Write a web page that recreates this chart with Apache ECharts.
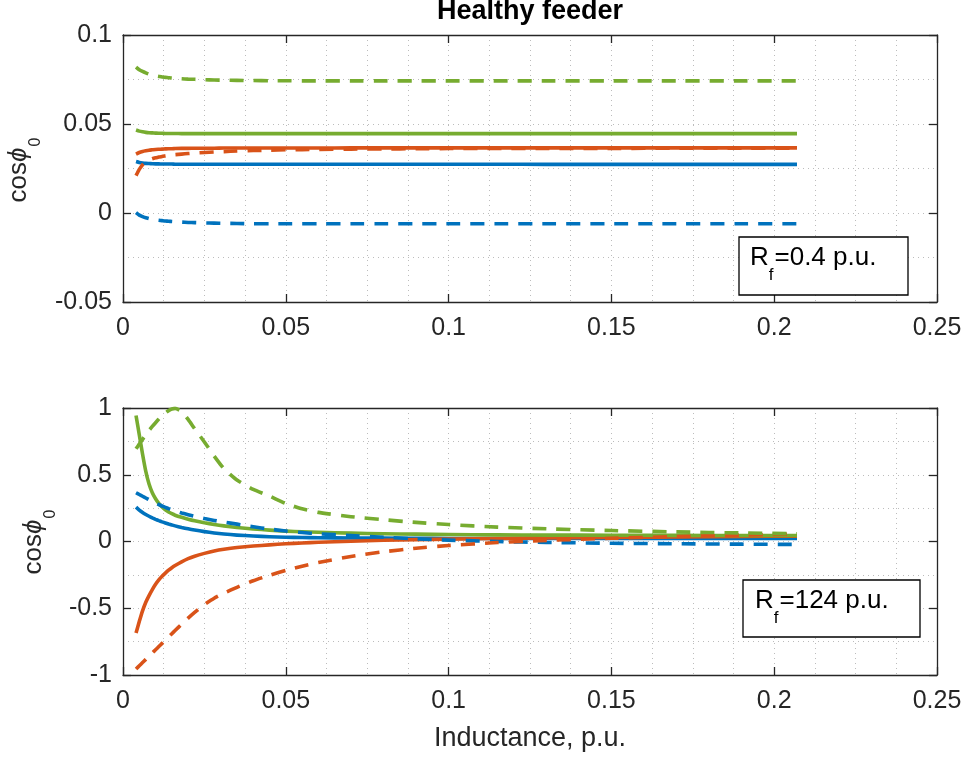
<!DOCTYPE html>
<html>
<head>
<meta charset="utf-8">
<script src="https://cdn.jsdelivr.net/npm/echarts@6/dist/echarts.min.js"></script>
<style>
html,body{margin:0;padding:0;background:#fff;}
#chart{width:968px;height:760px;}
</style>
</head>
<body>
<div id="chart"></div>
<script>
// ---- Data ----
const inductance = [0.004, 0.005, 0.006, 0.007, 0.008, 0.009, 0.010, 0.011, 0.012, 0.013, 0.014, 0.015, 0.016,
  0.018, 0.020, 0.022, 0.025, 0.028, 0.031, 0.035, 0.040, 0.045, 0.050, 0.055, 0.060,
  0.070, 0.080, 0.090, 0.100, 0.115, 0.130, 0.150, 0.170, 0.190, 0.207];

// Top panel (Rf = 0.4 p.u.)
const topBlueSolid   = [0.0289, 0.0284, 0.0281, 0.0279, 0.0278, 0.0277, 0.0276, 0.0276, 0.0275, 0.0275, 0.0275, 0.0275, 0.0274,
  0.0274, 0.0274, 0.0274, 0.0274, 0.0274, 0.0274, 0.0274, 0.0274, 0.0274, 0.0274, 0.0274, 0.0274,
  0.0274, 0.0274, 0.0274, 0.0274, 0.0274, 0.0273, 0.0273, 0.0273, 0.0273, 0.0273];
const topOrangeSolid = [0.0331, 0.0340, 0.0346, 0.0350, 0.0353, 0.0355, 0.0357, 0.0358, 0.0359, 0.0360, 0.0361, 0.0361, 0.0362,
  0.0363, 0.0363, 0.0364, 0.0364, 0.0364, 0.0365, 0.0365, 0.0365, 0.0365, 0.0365, 0.0365, 0.0365,
  0.0366, 0.0366, 0.0366, 0.0366, 0.0366, 0.0366, 0.0366, 0.0366, 0.0366, 0.0366];
const topGreenSolid  = [0.0466, 0.0460, 0.0456, 0.0453, 0.0451, 0.0450, 0.0449, 0.0448, 0.0448, 0.0447, 0.0447, 0.0447, 0.0447,
  0.0446, 0.0446, 0.0446, 0.0446, 0.0446, 0.0446, 0.0446, 0.0446, 0.0446, 0.0446, 0.0446, 0.0446,
  0.0446, 0.0446, 0.0446, 0.0446, 0.0446, 0.0446, 0.0446, 0.0446, 0.0446, 0.0446];
const topBlueDash    = [0.0002, -0.0012, -0.0020, -0.0027, -0.0032, -0.0036, -0.0039, -0.0041, -0.0043, -0.0045, -0.0046, -0.0048, -0.0049,
  -0.0051, -0.0053, -0.0054, -0.0056, -0.0057, -0.0058, -0.0059, -0.0060, -0.0060, -0.0060, -0.0060, -0.0060,
  -0.0060, -0.0060, -0.0060, -0.0060, -0.0060, -0.0060, -0.0060, -0.0060, -0.0060, -0.0060];
const topOrangeDash  = [0.0210, 0.0245, 0.0270, 0.0288, 0.0298, 0.0305, 0.0310, 0.0314, 0.0318, 0.0321, 0.0324, 0.0326, 0.0328,
  0.0331, 0.0334, 0.0337, 0.0340, 0.0343, 0.0345, 0.0348, 0.0351, 0.0353, 0.0355, 0.0356, 0.0357,
  0.0359, 0.0360, 0.0361, 0.0362, 0.0362, 0.0363, 0.0363, 0.0364, 0.0364, 0.0364];
const topGreenDash   = [0.0820, 0.0805, 0.0795, 0.0787, 0.0780, 0.0775, 0.0770, 0.0767, 0.0764, 0.0762, 0.0760, 0.0758, 0.0757,
  0.0754, 0.0752, 0.0751, 0.0749, 0.0747, 0.0746, 0.0745, 0.0744, 0.0743, 0.0743, 0.0742, 0.0742,
  0.0742, 0.0742, 0.0742, 0.0742, 0.0742, 0.0742, 0.0742, 0.0742, 0.0742, 0.0742];

// Bottom panel (Rf = 124 p.u.)
const botBlueSolid   = [0.257, 0.235, 0.217, 0.202, 0.189, 0.177, 0.166, 0.156, 0.147, 0.139, 0.131, 0.124, 0.117,
  0.105, 0.095, 0.086, 0.074, 0.064, 0.056, 0.048, 0.041, 0.036, 0.032, 0.030, 0.028,
  0.026, 0.025, 0.024, 0.023, 0.023, 0.022, 0.022, 0.022, 0.022, 0.022];
const botOrangeSolid = [-0.685, -0.600, -0.520, -0.455, -0.405, -0.360, -0.320, -0.287, -0.260, -0.237, -0.215, -0.196, -0.180,
  -0.152, -0.128, -0.110, -0.089, -0.071, -0.058, -0.045, -0.034, -0.025, -0.017, -0.011, -0.006,
  0.002, 0.009, 0.014, 0.018, 0.023, 0.027, 0.031, 0.035, 0.038, 0.040];
const botGreenSolid  = [0.944, 0.800, 0.655, 0.525, 0.430, 0.365, 0.320, 0.285, 0.258, 0.237, 0.221, 0.208, 0.197,
  0.181, 0.167, 0.155, 0.140, 0.128, 0.117, 0.105, 0.094, 0.085, 0.078, 0.073, 0.069,
  0.063, 0.058, 0.055, 0.052, 0.050, 0.048, 0.047, 0.046, 0.045, 0.045];
const botBlueDash    = [0.365, 0.352, 0.339, 0.326, 0.313, 0.300, 0.288, 0.277, 0.266, 0.256, 0.246, 0.237, 0.229,
  0.214, 0.201, 0.189, 0.172, 0.158, 0.145, 0.130, 0.110, 0.093, 0.078, 0.067, 0.058,
  0.045, 0.032, 0.020, 0.010, 0.000, -0.007, -0.013, -0.017, -0.020, -0.022];
const botOrangeDash  = [-0.955, -0.931, -0.907, -0.883, -0.859, -0.835, -0.811, -0.787, -0.763, -0.739, -0.715, -0.691, -0.667,
  -0.620, -0.574, -0.531, -0.472, -0.425, -0.387, -0.343, -0.294, -0.253, -0.217, -0.185, -0.157,
  -0.112, -0.077, -0.050, -0.030, -0.008, 0.008, 0.024, 0.037, 0.048, 0.056];
const botGreenDash   = [0.694, 0.730, 0.765, 0.800, 0.832, 0.862, 0.890, 0.917, 0.942, 0.963, 0.980, 0.992, 0.997,
  0.975, 0.915, 0.845, 0.745, 0.640, 0.545, 0.460, 0.390, 0.340, 0.285, 0.245, 0.218,
  0.186, 0.163, 0.143, 0.127, 0.108, 0.095, 0.082, 0.072, 0.064, 0.058];

// Axis ticks
const xTicks = { min: 0, max: 0.25, interval: 0.05 };
const yTopTicks = { min: -0.05, max: 0.1, interval: 0.05 };
const yBotTicks = { min: -1, max: 1, interval: 0.5 };

const titleText = 'Healthy feeder';
const xLabelText = 'Inductance, p.u.';
const annTop = ['R', 'f', '=0.4 p.u.'];
const annBot = ['R', 'f', '=124 p.u.'];
const yLabelParts = ['cos', '\u03D5', '0'];

// ---- Styling ----
const C_BLUE = '#0072BD', C_ORANGE = '#D95319', C_GREEN = '#77AC30';
const AX = '#262626';
const FONT = '"Liberation Sans", Arial, Helvetica, sans-serif';
const TICK_FS = 25;
const LW = 3.6;
const DASH = [14, 10];
const gridLine = { show: true, lineStyle: { color: '#bcbcbc', width: 1, type: [1, 4] } };

function pairs(ys) { return inductance.map((x, i) => [x, ys[i]]); }

function xAxes(gridIndex, withName) {
  return [
    {
      type: 'value', gridIndex, position: 'bottom', min: xTicks.min, max: xTicks.max, interval: xTicks.interval,
      axisLine: { show: true, onZero: false, lineStyle: { color: AX, width: 1.3 } },
      axisTick: { show: true, inside: true, length: 8, lineStyle: { color: AX, width: 1.3 } },
      axisLabel: { show: true, color: AX, fontSize: TICK_FS, fontFamily: FONT, margin: 14 },
      splitLine: gridLine,
      minorTick: { show: false, splitNumber: 4 },
      minorSplitLine: gridLine,
      name: withName ? xLabelText : '',
      nameLocation: 'middle', nameGap: 50,
      nameTextStyle: { color: AX, fontSize: 27, fontFamily: FONT }
    },
    {
      type: 'value', gridIndex, position: 'top', min: xTicks.min, max: xTicks.max, interval: xTicks.interval,
      axisLine: { show: true, onZero: false, lineStyle: { color: AX, width: 1.3 } },
      axisTick: { show: true, inside: true, length: 8, lineStyle: { color: AX, width: 1.3 } },
      axisLabel: { show: false }, splitLine: { show: false }
    }
  ];
}
function yAxes(gridIndex, t) {
  return [
    {
      type: 'value', gridIndex, position: 'left', min: t.min, max: t.max, interval: t.interval,
      axisLine: { show: true, onZero: false, lineStyle: { color: AX, width: 1.3 } },
      axisTick: { show: true, inside: true, length: 8, lineStyle: { color: AX, width: 1.3 } },
      axisLabel: { show: true, color: AX, fontSize: TICK_FS, fontFamily: FONT, margin: 11 },
      splitLine: gridLine,
      minorTick: { show: false, splitNumber: 2 },
      minorSplitLine: gridLine
    },
    {
      type: 'value', gridIndex, position: 'right', min: t.min, max: t.max, interval: t.interval,
      axisLine: { show: true, onZero: false, lineStyle: { color: AX, width: 1.3 } },
      axisTick: { show: true, inside: true, length: 8, lineStyle: { color: AX, width: 1.3 } },
      axisLabel: { show: false }, splitLine: { show: false }
    }
  ];
}

function line(data, color, dashed, xi, yi) {
  return {
    type: 'line', data: pairs(data), xAxisIndex: xi, yAxisIndex: yi,
    showSymbol: false, symbol: 'none', smooth: 0.15,
    lineStyle: { color, width: LW, type: dashed ? DASH : 'solid', cap: 'butt', join: 'round' },
    silent: true, animation: false, z: 3
  };
}

// text measuring for manual sub-script layout
const ctx = document.createElement('canvas').getContext('2d');
function tw(txt, fs, style) { ctx.font = (style || '') + ' ' + fs + 'px ' + FONT; return ctx.measureText(txt).width; }

function yLabel(baseX, centerY) {
  const fs = 26, sfs = 16;
  const w0 = tw(yLabelParts[0], fs), w1 = tw(yLabelParts[1], fs, 'italic'), w2 = tw(yLabelParts[2], sfs);
  const total = w0 + w1 + w2 + 1;
  let x0 = -total / 2;
  const mid = -0.35 * fs;
  return {
    type: 'group', x: baseX, y: centerY, rotation: Math.PI / 2, silent: true,
    children: [
      { type: 'text', x: x0, y: mid, style: { text: yLabelParts[0], fill: AX, font: fs + 'px ' + FONT, textAlign: 'left', textVerticalAlign: 'middle' } },
      { type: 'text', x: x0 + w0, y: mid, style: { text: yLabelParts[1], fill: AX, font: 'italic ' + fs + 'px ' + FONT, textAlign: 'left', textVerticalAlign: 'middle' } },
      { type: 'text', x: x0 + w0 + w1 + 1, y: 13 - 0.35 * sfs, style: { text: yLabelParts[2], fill: AX, font: sfs + 'px ' + FONT, textAlign: 'left', textVerticalAlign: 'middle' } }
    ]
  };
}

function annotation(rx, ry, rw, rh, textX, baseY, parts) {
  const fs = 26, sfs = 17;
  const w0 = tw(parts[0], fs), w1 = tw(parts[1], sfs);
  return {
    type: 'group', silent: true,
    children: [
      { type: 'rect', shape: { x: rx, y: ry, width: rw, height: rh }, style: { fill: '#fff', stroke: '#000', lineWidth: 1.3 }, z: 10 },
      { type: 'text', x: textX, y: baseY - 0.35 * fs, z: 11, style: { text: parts[0], fill: '#000', font: fs + 'px ' + FONT, textAlign: 'left', textVerticalAlign: 'middle' } },
      { type: 'text', x: textX + w0, y: baseY + 14 - 0.35 * sfs, z: 11, style: { text: parts[1], fill: '#000', font: sfs + 'px ' + FONT, textAlign: 'left', textVerticalAlign: 'middle' } },
      { type: 'text', x: textX + w0 + w1 + 1, y: baseY - 0.35 * fs, z: 11, style: { text: parts[2], fill: '#000', font: fs + 'px ' + FONT, textAlign: 'left', textVerticalAlign: 'middle' } }
    ]
  };
}

const chart = echarts.init(document.getElementById('chart'), null, { renderer: 'canvas' });
const option = {
  backgroundColor: '#fff',
  animation: false,
  grid: [
    { left: 123, top: 35, width: 814, height: 267 },
    { left: 123, top: 408, width: 814, height: 267 }
  ],
  xAxis: [...xAxes(0, false), ...xAxes(1, true)],
  yAxis: [...yAxes(0, yTopTicks), ...yAxes(1, yBotTicks)],
  series: [
    line(topBlueSolid, C_BLUE, false, 0, 0),
    line(topOrangeSolid, C_ORANGE, false, 0, 0),
    line(topGreenSolid, C_GREEN, false, 0, 0),
    line(topBlueDash, C_BLUE, true, 0, 0),
    line(topOrangeDash, C_ORANGE, true, 0, 0),
    line(topGreenDash, C_GREEN, true, 0, 0),
    line(botBlueSolid, C_BLUE, false, 2, 2),
    line(botOrangeSolid, C_ORANGE, false, 2, 2),
    line(botGreenSolid, C_GREEN, false, 2, 2),
    line(botBlueDash, C_BLUE, true, 2, 2),
    line(botOrangeDash, C_ORANGE, true, 2, 2),
    line(botGreenDash, C_GREEN, true, 2, 2)
  ],
  graphic: [
    { type: 'text', x: 530, y: 12, silent: true, style: { text: titleText, fill: '#000', font: 'bold 27px ' + FONT, textAlign: 'center', textVerticalAlign: 'middle' } },
    yLabel(28, 170),
    yLabel(43, 542),
    annotation(739, 237, 169, 58, 750, 267, annTop),
    annotation(743, 580, 177, 57, 755, 610, annBot)
  ]
};
chart.setOption(option);
</script>
</body>
</html>
